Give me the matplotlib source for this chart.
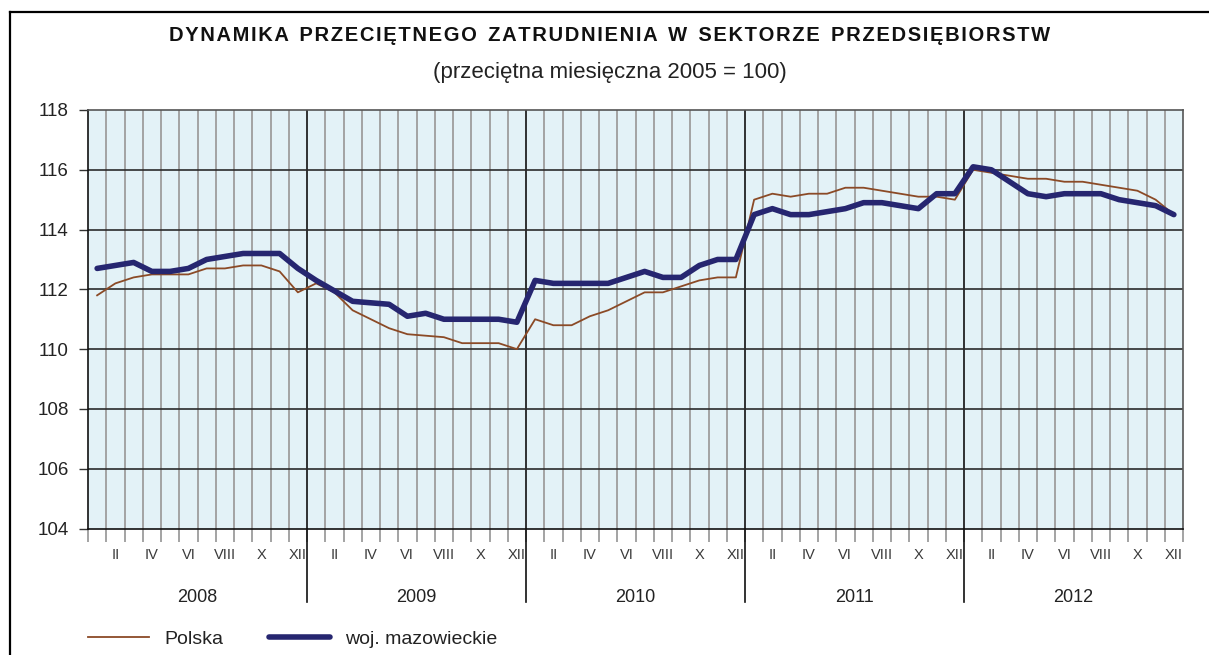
import numpy as np
import matplotlib
matplotlib.use("Agg")
import matplotlib.pyplot as plt
from matplotlib.lines import Line2D

plt.rcParams['font.family'] = ['Liberation Sans', 'DejaVu Sans']

# data (monthly index, average month of 2005 = 100)
years = ["2008", "2009", "2010", "2011", "2012"]
month_labels = ["", "II", "", "IV", "", "VI", "", "VIII", "", "X", "", "XII"]

polska = [
    111.8, 112.2, 112.4, 112.5, 112.5, 112.5, 112.7, 112.7, 112.8, 112.8, 112.6, 111.9,
    112.2, 111.9, 111.3, 111.0, 110.7, 110.5, 110.45, 110.4, 110.2, 110.2, 110.2, 110.0,
    111.0, 110.8, 110.8, 111.1, 111.3, 111.6, 111.9, 111.9, 112.1, 112.3, 112.4, 112.4,
    115.0, 115.2, 115.1, 115.2, 115.2, 115.4, 115.4, 115.3, 115.2, 115.1, 115.1, 115.0,
    116.0, 115.9, 115.8, 115.7, 115.7, 115.6, 115.6, 115.5, 115.4, 115.3, 115.0, 114.5,
]
mazowieckie = [
    112.7, 112.8, 112.9, 112.6, 112.6, 112.7, 113.0, 113.1, 113.2, 113.2, 113.2, 112.7,
    112.3, 111.95, 111.6, 111.55, 111.5, 111.1, 111.2, 111.0, 111.0, 111.0, 111.0, 110.9,
    112.3, 112.2, 112.2, 112.2, 112.2, 112.4, 112.6, 112.4, 112.4, 112.8, 113.0, 113.0,
    114.5, 114.7, 114.5, 114.5, 114.6, 114.7, 114.9, 114.9, 114.8, 114.7, 115.2, 115.2,
    116.1, 116.0, 115.6, 115.2, 115.1, 115.2, 115.2, 115.2, 115.0, 114.9, 114.8, 114.5,
]

col_pl = "#8B4A26"
col_maz = "#262670"
bg = "#E3F2F7"
txt = "#222222"

n = len(polska)
x = np.arange(n) + 0.5

W, H = 1209, 655
fig = plt.figure(figsize=(W / 100, H / 100), dpi=100)
ax = fig.add_axes([88 / W, (H - 528.5) / H, 1095 / W, 418.5 / H])
ax.set_facecolor(bg)

ax.set_xlim(0, n)
ax.set_ylim(104, 118)
xt = ax.get_xaxis_transform()

# grid: gray month lines, black year lines and value lines
for m in range(1, n):
    if m % 12 == 0:
        ax.axvline(m, color="#111111", lw=1.2, zorder=1)
        ax.plot([m, m], [0, -0.176], color="#111111", lw=1.2, transform=xt, clip_on=False)
    else:
        ax.axvline(m, color="#A3A3A3", lw=1.4, zorder=1)
for v in range(106, 118, 2):
    ax.axhline(v, color="#2b2b2b", lw=1.2, zorder=1)

ax.plot(x, polska, color=col_pl, lw=1.3, zorder=3, label="Polska")
ax.plot(x, mazowieckie, color=col_maz, lw=4.0, zorder=4,
        solid_capstyle="round", solid_joinstyle="round", label="woj. mazowieckie")

# y axis
ax.set_yticks(np.arange(104, 119, 2))
ax.tick_params(axis="y", length=6.5, width=1, color="#333333", labelsize=13.5,
               labelcolor=txt, pad=7.5)

# x axis: month boundary ticks, month and year labels
ax.set_xticks([])
ax.set_xticks(np.arange(0, n + 1), minor=True)
ax.tick_params(axis="x", which="minor", length=9.5, width=1.4, color="#A3A3A3")
for i, lab in enumerate(month_labels * len(years)):
    if lab:
        ax.text(x[i], -0.0736, lab, transform=xt, ha="center", va="baseline",
                fontsize=10.5, color="#3a3a3a")
for i, yr in enumerate(years):
    ax.text(12 * i + 6, -0.176, yr, transform=xt, ha="center", va="baseline",
            fontsize=13, color=txt)

for s in ["left", "bottom"]:
    ax.spines[s].set_color("#111111")
    ax.spines[s].set_linewidth(1.2)
for s in ["top", "right"]:
    ax.spines[s].set_color("#555555")
    ax.spines[s].set_linewidth(1.2)

# title with a little letter spacing (hair spaces)
title_words = ["DYNAMIKA", "PRZECIĘTNEGO", "ZATRUDNIENIA", "W", "SEKTORZE", "PRZEDSIĘBIORSTW"]
title = "  ".join("\u200a".join(w) for w in title_words)
fig.text(610 / W, 1 - 40.7 / H, title, ha="center", va="baseline",
         fontsize=14.5, fontweight="bold", color="#111111")
fig.text(610 / W, 1 - 78 / H, "(przeciętna miesięczna 2005 = 100)",
         ha="center", va="baseline", fontsize=16, color=txt)

leg = ax.legend(loc="center left", bbox_to_anchor=(88 / W, 16 / H),
                bbox_transform=fig.transFigure, ncol=2, frameon=False,
                borderaxespad=0, borderpad=0,
                fontsize=14, handlelength=3.15, handletextpad=0.8, columnspacing=2.3)
for t in leg.get_texts():
    t.set_color(txt)

# outer frame of the chart
fig.add_artist(Line2D([10 / W, 10 / W], [0, 1 - 12 / H], color="black", lw=1.6,
                      transform=fig.transFigure))
fig.add_artist(Line2D([10 / W, 1], [1 - 12 / H, 1 - 12 / H], color="black", lw=1.6,
                      transform=fig.transFigure))

plt.savefig("out.png", dpi=100)
